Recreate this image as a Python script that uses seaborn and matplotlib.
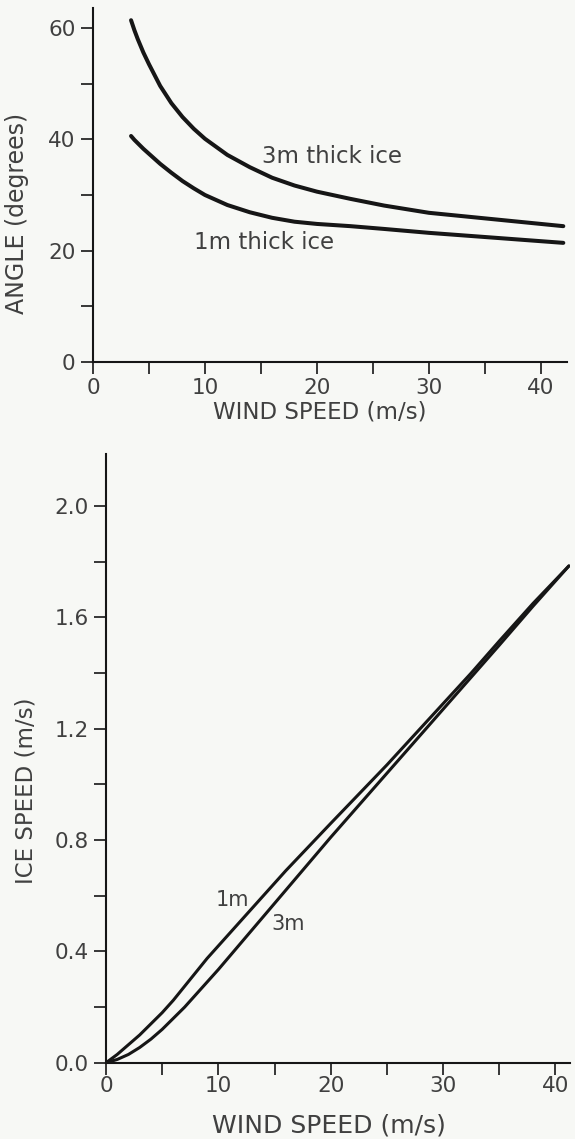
import matplotlib
matplotlib.use("Agg")
import matplotlib.pyplot as plt
import pandas as pd
import seaborn as sns
from matplotlib.ticker import MultipleLocator, FormatStrFormatter

# angle of ice drift vs wind speed
angle_wind = [3.4, 3.7, 4, 4.5, 5, 6, 7, 8, 9, 10, 12, 14, 16, 18, 20, 23, 26, 30, 34, 38, 42]
angle_1m = [40.6, 39.9, 39.3, 38.3, 37.4, 35.6, 34.0, 32.5, 31.2, 30.0, 28.2, 26.9,
            25.9, 25.2, 24.8, 24.4, 23.9, 23.2, 22.6, 22.0, 21.4]
angle_3m = [61.4, 59.6, 58.0, 55.6, 53.5, 49.6, 46.5, 44.0, 41.9, 40.1, 37.2, 35.0,
            33.1, 31.7, 30.6, 29.3, 28.1, 26.8, 26.0, 25.2, 24.4]

# ice speed vs wind speed
speed_wind = [0, 1, 2, 3, 4, 5, 6, 7, 8, 9, 10, 12, 14, 16, 18, 20, 22.5, 25, 27.5,
              30, 32.5, 35, 38, 41.2]
speed_1m = [0, 0.03, 0.065, 0.10, 0.14, 0.18, 0.225, 0.275, 0.325, 0.375, 0.42, 0.51,
            0.60, 0.69, 0.775, 0.86, 0.965, 1.07, 1.18, 1.29, 1.40, 1.515, 1.65, 1.785]
speed_3m = [0, 0.012, 0.03, 0.055, 0.085, 0.12, 0.16, 0.20, 0.245, 0.29, 0.335, 0.43,
            0.525, 0.62, 0.715, 0.81, 0.925, 1.04, 1.155, 1.27, 1.385, 1.50, 1.64, 1.785]

x_ticks = [0, 10, 20, 30, 40]
angle_ticks = [0, 20, 40, 60]
speed_ticks = [0.0, 0.4, 0.8, 1.2, 1.6, 2.0]

sns.set_style("ticks")
plt.rcParams['font.family'] = ['DejaVu Sans']

bg = '#f7f8f5'
ink = '#161616'
txt = '#404040'

df_angle = pd.DataFrame({
    'wind': angle_wind * 2,
    'angle': angle_1m + angle_3m,
    'ice': ['1m'] * len(angle_wind) + ['3m'] * len(angle_wind),
})
df_speed = pd.DataFrame({
    'wind': speed_wind * 2,
    'speed': speed_1m + speed_3m,
    'ice': ['1m'] * len(speed_wind) + ['3m'] * len(speed_wind),
})

fig = plt.figure(figsize=(5.75, 11.39), dpi=100, facecolor=bg)
ax1 = fig.add_axes([0.1617, 0.6822, 0.8238, 0.3108], facecolor=bg)
ax2 = fig.add_axes([0.1843, 0.0669, 0.807, 0.5342], facecolor=bg)

sns.lineplot(data=df_angle, x='wind', y='angle', hue='ice', palette=[ink, ink],
             linewidth=2.9, legend=False, ax=ax1, sort=False)
sns.lineplot(data=df_speed, x='wind', y='speed', hue='ice', palette=[ink, ink],
             linewidth=2.2, legend=False, ax=ax2, sort=False)

def style(ax, yticks, ymajor_step, ymax, xmax, xpad):
    ax.set_xlim(0, xmax)
    ax.set_ylim(0, ymax)
    ax.set_xticks(x_ticks)
    ax.xaxis.set_minor_locator(MultipleLocator(5))
    ax.set_yticks(yticks)
    ax.yaxis.set_minor_locator(MultipleLocator(ymajor_step / 2))
    for s in ['top', 'right']:
        ax.spines[s].set_visible(False)
    for s in ['left', 'bottom']:
        ax.spines[s].set_linewidth(1.5)
        ax.spines[s].set_color(ink)
    ax.tick_params(axis='both', which='both', length=8.5, width=1.2, color=ink,
                   direction='out', labelsize=15.5, labelcolor=txt)
    ax.tick_params(axis='y', which='major', pad=4)
    ax.tick_params(axis='x', which='major', pad=xpad)

style(ax1, angle_ticks, 20, 63.6, 42.3, 3)
style(ax2, speed_ticks, 0.4, 2.186, 41.3, 1)
ax2.yaxis.set_major_formatter(FormatStrFormatter('%.1f'))

ax1.set_xlabel('WIND SPEED (m/s)', fontsize=16.5, color=txt)
ax1.set_ylabel('ANGLE (degrees)', fontsize=17, color=txt)
ax1.xaxis.set_label_coords(0.479, -0.108)
ax1.yaxis.set_label_coords(-0.135, 0.421)

ax2.set_xlabel('WIND SPEED (m/s)', fontsize=18, color=txt)
ax2.set_ylabel('ICE SPEED (m/s)', fontsize=16.5, color=txt)
ax2.xaxis.set_label_coords(0.48, -0.084)
ax2.yaxis.set_label_coords(-0.147, 0.447)

ax1.text(15.1, 36.9, '3m thick ice', fontsize=16.5, color=txt, ha='left', va='center')
ax1.text(9.0, 21.4, '1m thick ice', fontsize=16.5, color=txt, ha='left', va='center')
ax2.text(9.8, 0.585, '1m', fontsize=15, color=txt, ha='left', va='center')
ax2.text(14.7, 0.497, '3m', fontsize=15, color=txt, ha='left', va='center')

fig.savefig('out.png', dpi=100, facecolor=bg)
